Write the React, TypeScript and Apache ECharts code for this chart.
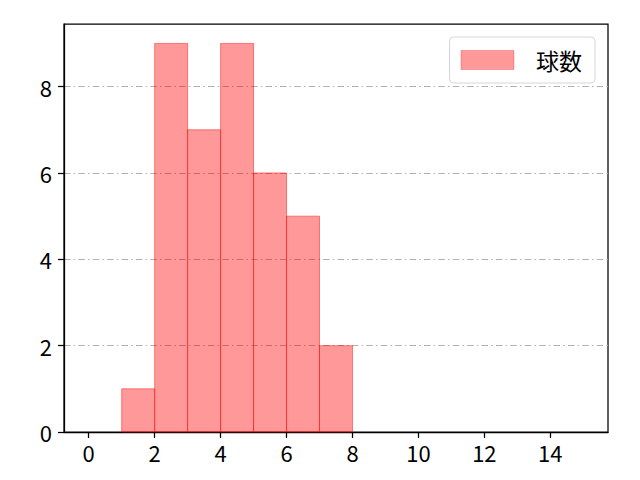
import React, { useEffect, useRef } from 'react'
import * as echarts from 'echarts'

// histogram bins (left edge, right edge) and counts
const binStarts = [1, 2, 3, 4, 5, 6, 7]
const binEnds = [2, 3, 4, 5, 6, 7, 8]
const counts = [1, 9, 7, 9, 6, 5, 2]
const xTicks = [0, 2, 4, 6, 8, 10, 12, 14]
const yTicks = [0, 2, 4, 6, 8]
const seriesName = '球数'

const FONT = 'Noto Sans CJK JP'
const FILL = 'rgba(255,0,0,0.4)'
const EDGE = 'rgba(255,0,0,0.45)'

const App: React.FC = () => {
  const chartRef = useRef<HTMLDivElement>(null)

  useEffect(() => {
    if (!chartRef.current) return
    const chart = echarts.init(chartRef.current, null, { renderer: 'svg' })

    const data = binStarts.map((s, i) => [s, binEnds[i], counts[i]])

    chart.setOption({
      animation: false,
      grid: {
        left: 64,
        top: 24,
        width: 544,
        height: 408,
        show: true,
        borderColor: '#000',
        borderWidth: 1.25,
        backgroundColor: 'transparent',
      },
      legend: {
        data: [{ name: seriesName, icon: 'rect' }],
        right: 45,
        top: 37,
        itemWidth: 53,
        itemHeight: 19,
        padding: [10, 13, 10, 11],
        borderColor: '#d6d6d6',
        borderWidth: 1,
        borderRadius: 4,
        backgroundColor: '#fff',
        itemStyle: { color: FILL, borderColor: 'rgba(255,0,0,0.25)', borderWidth: 1 },
        textStyle: {
          fontFamily: FONT,
          fontSize: 23,
          lineHeight: 26,
          color: '#000',
          padding: [0, 0, 0, 17],
        },
      },
      xAxis: {
        type: 'value',
        min: -0.75,
        max: 15.75,
        axisLine: { show: true, onZero: false, lineStyle: { color: '#000', width: 1.25 } },
        axisTick: {
          show: true,
          length: 6,
          lineStyle: { color: '#000', width: 1.25 },
          customValues: xTicks,
        },
        axisLabel: {
          fontFamily: FONT,
          fontSize: 22,
          color: '#000',
          margin: 9,
          customValues: xTicks,
        },
        splitLine: { show: false },
      },
      yAxis: {
        type: 'value',
        min: 0,
        max: 9.45,
        axisLine: { show: true, onZero: false, lineStyle: { color: '#000', width: 1.25 } },
        axisTick: {
          show: true,
          length: 6,
          lineStyle: { color: '#000', width: 1.25 },
          customValues: yTicks,
        },
        axisLabel: {
          fontFamily: FONT,
          fontSize: 22,
          color: '#000',
          margin: 12,
          customValues: yTicks,
        },
        splitLine: {
          show: true,
          lineStyle: { color: '#b0b0b0', width: 1, type: [6.4, 3.2, 1.6, 3.2] },
        },
      },
      series: [
        {
          name: seriesName,
          type: 'custom',
          itemStyle: { color: FILL, borderColor: EDGE, borderWidth: 1 },
          encode: { x: [0, 1], y: 2 },
          data,
          renderItem: (params: any, api: any) => {
            const topLeft = api.coord([api.value(0), api.value(2)])
            const bottomRight = api.coord([api.value(1), 0])
            return {
              type: 'rect',
              shape: {
                x: topLeft[0],
                y: topLeft[1],
                width: bottomRight[0] - topLeft[0],
                height: bottomRight[1] - topLeft[1],
              },
              style: { fill: FILL, stroke: EDGE, lineWidth: 1 },
            }
          },
        },
      ],
    })

    return () => {
      chart.dispose()
    }
  }, [])

  return <div ref={chartRef} style={{ width: 640, height: 480, margin: -8 }} />
}

export default App
